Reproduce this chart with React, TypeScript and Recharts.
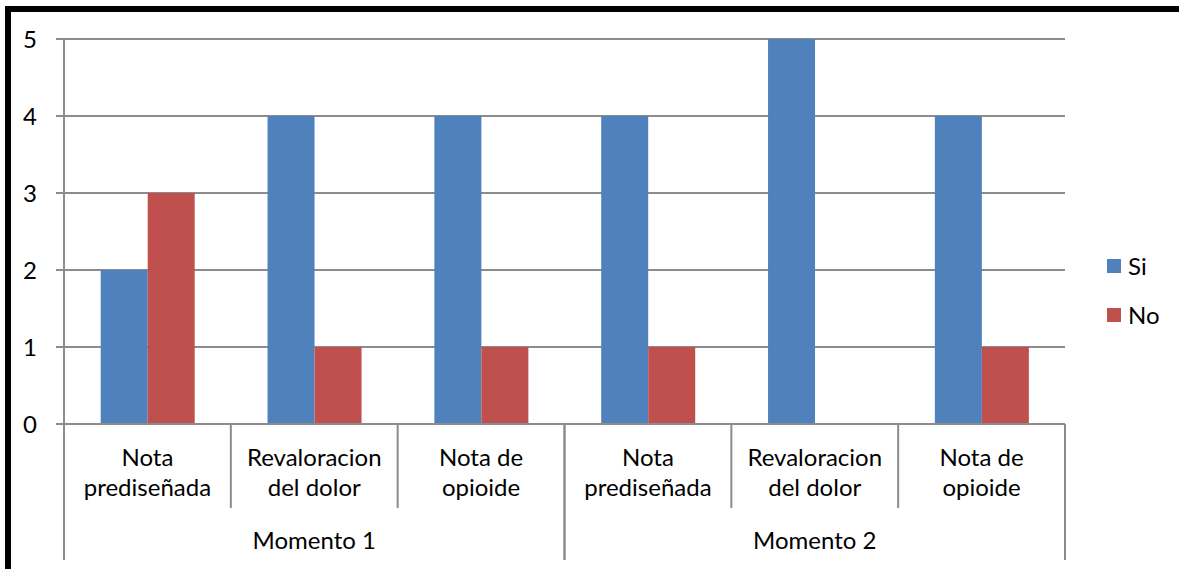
import { Bar, BarChart, CartesianGrid, Legend, XAxis, YAxis } from "recharts";

const categories = [
  "Nota prediseñada",
  "Revaloracion del dolor",
  "Nota de opioide",
  "Nota prediseñada",
  "Revaloracion del dolor",
  "Nota de opioide",
];
const groups = ["Momento 1", "Momento 1", "Momento 1", "Momento 2", "Momento 2", "Momento 2"];
const labelLines: string[][] = [
  ["Nota", "prediseñada"],
  ["Revaloracion", "del dolor"],
  ["Nota de", "opioide"],
  ["Nota", "prediseñada"],
  ["Revaloracion", "del dolor"],
  ["Nota de", "opioide"],
];
const siValues = [2, 4, 4, 4, 5, 4];
const noValues = [3, 1, 1, 1, 0, 1];
const yTicks = [0, 1, 2, 3, 4, 5];

const data = categories.map((c, i) => ({
  name: c,
  group: groups[i],
  Si: siValues[i],
  No: noValues[i],
}));

const W = 1179;
const H = 569;
const margin = { top: 39, right: 114, bottom: 0, left: 0 };
const Y_AXIS_W = 64;
const X_AXIS_H = 145;
const FONT = "Lato, 'Open Sans', sans-serif";
const FS = 24;
const GRAY = "#8c8c8c";
const band = (W - margin.left - margin.right - Y_AXIS_W) / categories.length;

function CategoryTick(props: any) {
  const { x, index } = props;
  const y = props.y - 8;
  const lines = labelLines[index] ?? [];
  const half = props.payload?.offset ?? band / 2;
  const left = x - half;
  const right = x + half;
  const firstOfGroup = index === 0 || groups[index] !== groups[index - 1];
  const lastOfGroup = index === groups.length - 1 || groups[index] !== groups[index + 1];
  const groupMid = index === 1 || index === 4;
  return (
    <g>
      <line x1={left} x2={left} y1={y} y2={firstOfGroup ? y + 136 : y + 84} stroke={GRAY} strokeWidth={2} />
      {lastOfGroup && (
        <line x1={right} x2={right} y1={y} y2={y + 136} stroke={GRAY} strokeWidth={2} />
      )}
      {lines.map((l, k) => (
        <text key={k} x={x} y={y + 42 + k * 30} textAnchor="middle" fontSize={FS} fontFamily={FONT} fill="#000">
          {l}
        </text>
      ))}
      {groupMid && (
        <text x={x} y={y + 125} textAnchor="middle" fontSize={FS} fontFamily={FONT} fill="#000">
          {groups[index]}
        </text>
      )}
    </g>
  );
}

function LegendContent() {
  const items = [
    { label: "Si", color: "#4F81BD" },
    { label: "No", color: "#C0504D" },
  ];
  return (
    <div style={{ fontFamily: FONT, fontSize: FS, color: "#000" }}>
      {items.map((it) => (
        <div key={it.label} style={{ display: "flex", alignItems: "center", height: 49 }}>
          <span style={{ width: 14, height: 14, background: it.color, display: "inline-block", marginRight: 7 }} />
          <span>{it.label}</span>
        </div>
      ))}
    </div>
  );
}

export default function App() {
  return (
    <div style={{ position: "absolute", left: 0, top: 0, width: W, height: H, overflow: "hidden", background: "#fff" }}>
      <div
        style={{
          position: "absolute",
          left: 5,
          top: 6,
          width: W + 20,
          height: H + 20,
          borderLeft: "6px solid #000",
          borderTop: "6px solid #000",
          boxSizing: "border-box",
        }}
      />
      <div style={{ position: "absolute", left: 0, top: 0 }}>
        <BarChart width={W} height={H} data={data} margin={margin} barCategoryGap="22%" barGap={0}>
          <CartesianGrid vertical={false} stroke={GRAY} strokeWidth={2} />
          <XAxis
            dataKey="name"
            height={X_AXIS_H}
            interval={0}
            stroke={GRAY}
            strokeWidth={2}
            tickLine={false}
            tick={<CategoryTick />}
          />
          <YAxis
            width={Y_AXIS_W}
            domain={[0, 5]}
            ticks={yTicks}
            stroke={GRAY}
            strokeWidth={2}
            tickSize={8}
            tickMargin={19}
            tick={{ fontSize: FS, fontFamily: FONT, fill: "#000" }}
          />
          <Legend
            layout="horizontal"
            verticalAlign="middle"
            align="center"
            content={<LegendContent />}
            wrapperStyle={{ position: "absolute", left: 1107, top: 241, width: 70 }}
          />
          <Bar dataKey="Si" fill="#4F81BD" isAnimationActive={false} />
          <Bar dataKey="No" fill="#C0504D" isAnimationActive={false} />
        </BarChart>
      </div>
    </div>
  );
}
